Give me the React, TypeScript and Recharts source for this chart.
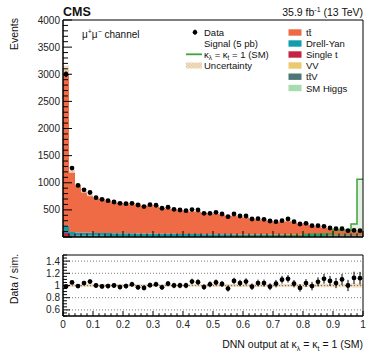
import React from 'react';
import { ComposedChart, Area, Scatter, ErrorBar, XAxis, YAxis, ReferenceLine, ReferenceArea } from 'recharts';

const FONT = '"Liberation Sans", Arial, sans-serif';
const BIN_W = 0.02;

// 50 bins of 0.02
const data = [3000, 1270, 950, 870, 820, 725, 695, 670, 645, 620, 615, 620, 590, 560, 595, 585, 530, 548, 510, 498,
  485, 505, 498, 436, 436, 455, 424, 375, 424, 387, 387, 332, 338, 326, 295, 283, 301, 332, 283, 240,
  252, 209, 209, 197, 166, 154, 154, 117, 123, 117];
const ratio = [0.985, 1.05, 0.99, 1.04, 1.065, 1.0, 0.985, 0.99, 1.0, 0.975, 0.99, 1.02, 0.97, 0.96, 1.005, 1.02, 0.97, 1.03, 1.0, 1.0,
  1.0, 1.065, 1.055, 0.975, 1.02, 1.05, 1.025, 0.95, 1.075, 1.04, 1.065, 0.98, 1.04, 1.04, 0.98, 1.03, 1.095, 1.11, 1.03, 0.96,
  1.04, 0.99, 1.06, 1.11, 1.075, 1.04, 1.1, 1.0, 1.125, 1.12];
const tt = [2874, 1118, 876, 757, 693, 650, 633, 605, 575, 567, 553, 541, 543, 519, 529, 513, 486, 472, 452, 442,
  429, 419, 418, 394, 375, 382, 363, 345, 346, 324, 316, 292, 279, 269, 257, 237, 242, 253, 234, 210,
  204, 174, 160, 141, 120, 114, 107, 85, 78, 75];
const dy = [130, 62, 58, 56, 55, 54, 52, 52, 50, 50, 49, 48, 47, 46, 46, 45, 44, 44, 43, 42,
  42, 41, 40, 40, 39, 38, 38, 37, 36, 36, 35, 35, 34, 33, 33, 32, 32, 31, 30, 30,
  29, 28, 28, 27, 26, 26, 25, 24, 24, 22];
const singleT = [60, 22, 18, 16, 15, 14, 14, 13, 13, 12, 12, 12, 11, 11, 11, 10, 10, 10, 10, 9,
  9, 9, 9, 8, 8, 8, 8, 8, 7, 7, 7, 7, 7, 6, 6, 6, 6, 6, 6, 5,
  5, 5, 5, 5, 4, 4, 4, 4, 3, 3];
const vv = [8, 4, 4, 4, 3, 3, 3, 3, 3, 3, 3, 3, 3, 3, 3, 3, 3, 3, 2, 2,
  2, 2, 2, 2, 2, 2, 2, 2, 2, 2, 2, 2, 2, 2, 2, 2, 2, 2, 2, 2,
  1, 1, 1, 1, 1, 1, 1, 1, 1, 1];
const ttv = [6, 3, 3, 3, 3, 3, 3, 3, 3, 3, 3, 3, 3, 3, 2, 2, 2, 2, 2, 2,
  2, 2, 2, 2, 2, 2, 2, 2, 2, 2, 2, 2, 2, 2, 2, 2, 2, 2, 2, 2,
  2, 2, 2, 2, 2, 2, 2, 2, 2, 2];
const higgs = [2, 1, 1, 1, 1, 1, 1, 1, 1, 1, 1, 1, 1, 1, 1, 1, 1, 1, 1, 1,
  1, 1, 1, 1, 1, 1, 1, 1, 1, 1, 1, 1, 1, 1, 1, 1, 1, 1, 1, 1,
  1, 1, 1, 1, 1, 1, 1, 1, 1, 1];
const signal = [1, 1, 1, 1, 1, 1, 1, 1, 1, 1, 2, 2, 2, 2, 2, 2, 3, 3, 3, 3,
  3, 4, 4, 4, 5, 5, 6, 6, 7, 8, 8, 9, 10, 11, 12, 14, 16, 18, 18, 20,
  45, 50, 52, 55, 58, 125, 130, 130, 240, 1063];
const relUnc = [0.026, 0.025, 0.024, 0.024, 0.024, 0.023, 0.023, 0.023, 0.023, 0.023, 0.022, 0.022, 0.022, 0.022, 0.022, 0.022, 0.022, 0.022, 0.022, 0.022,
  0.022, 0.022, 0.022, 0.022, 0.022, 0.023, 0.023, 0.023, 0.023, 0.023, 0.023, 0.024, 0.024, 0.024, 0.024, 0.025, 0.025, 0.025, 0.025, 0.026,
  0.026, 0.027, 0.027, 0.028, 0.028, 0.029, 0.03, 0.03, 0.031, 0.032];

const xLabels = ['0', '0.1', '0.2', '0.3', '0.4', '0.5', '0.6', '0.7', '0.8', '0.9', '1'];
const yLabels = [500, 1000, 1500, 2000, 2500, 3000, 3500, 4000];
const rLabels = [0.6, 0.8, 1, 1.2, 1.4];
const rGrid = [0.6, 0.8, 1, 1.2, 1.4];

const COLORS = {
  tt: '#EE6B45', dy: '#119DAB', singleT: '#C42341', vv: '#EDC96E', ttv: '#4F7677', higgs: '#A6DCB0',
  sig: '#3FA33B', unc: '#E6C79C',
};

const NB = data.length;
const xTicks = Array.from({ length: NB + 1 }, (_, k) => +(k * BIN_W).toFixed(2));
const yTicks = Array.from({ length: 41 }, (_, k) => k * 100);
const rTicks = Array.from({ length: 21 }, (_, k) => +(0.5 + k * 0.05).toFixed(2));

const totalOf = (i: number) => tt[i] + dy[i] + singleT[i] + vv[i] + ttv[i] + higgs[i];

// step rows at bin edges (last edge repeats the last bin)
const stackRows = xTicks.map((x, k) => {
  const i = Math.min(k, NB - 1);
  const tot = totalOf(i);
  return {
    x, tt: tt[i], dy: dy[i], singleT: singleT[i], vv: vv[i], ttv: ttv[i], higgs: higgs[i],
    sig: signal[i],
    unc: [tot * (1 - relUnc[i]), tot * (1 + relUnc[i])],
    runc: [1 - relUnc[i], 1 + relUnc[i]],
  };
});

const pointRows = data.map((v, i) => ({
  x: +((i + 0.5) * BIN_W).toFixed(3),
  y: v,
  err: Math.sqrt(v),
  r: ratio[i],
  rerr: ratio[i] / Math.sqrt(v),
}));

const isMajorX = (v: number) => Math.round(v * 100) % 10 === 0;

function MainXTick({ x, y, payload }: any) {
  const len = isMajorX(payload.value) ? 6 : 3.5;
  return <line x1={x} x2={x} y1={y} y2={y - len} stroke="#000" strokeWidth={1} />;
}

function MainYTick({ x, y, payload }: any) {
  const v = payload.value;
  const major = v % 500 === 0;
  return (
    <g>
      <line x1={x} x2={x + (major ? 9 : 5)} y1={y} y2={y} stroke="#000" />
      {major && v > 0 && yLabels.includes(v) && (
        <text x={x - 3} y={y} dy={3.5} textAnchor="end" fontSize={10} fontFamily={FONT} fill="#222">{v}</text>
      )}
    </g>
  );
}

function RatioXTick({ x, y, payload }: any) {
  const major = isMajorX(payload.value);
  const len = major ? 5 : 2.8;
  const lab = xLabels[Math.round(payload.value * 10)];
  return (
    <g>
      <line x1={x} x2={x} y1={y} y2={y - len} stroke="#000" />
      {major && (
        <text x={x} y={y + 12} textAnchor="middle" fontSize={10} fontFamily={FONT} fill="#222">{lab}</text>
      )}
    </g>
  );
}

function RatioTopTick({ x, y, payload }: any) {
  const len = isMajorX(payload.value) ? 5 : 2.8;
  return <line x1={x} x2={x} y1={y} y2={y + len} stroke="#000" />;
}

function RatioYTick({ x, y, payload }: any) {
  const v = payload.value;
  const lab = rLabels.find((l) => Math.abs(l - v) < 1e-6);
  return (
    <g>
      <line x1={x} x2={x + (lab !== undefined ? 7 : 4)} y1={y} y2={y} stroke="#000" />
      {lab !== undefined && (
        <text x={x - 3} y={y} dy={3.5} textAnchor="end" fontSize={10} fontFamily={FONT} fill="#222">{lab}</text>
      )}
    </g>
  );
}

const dot = (p: any) => <circle cx={p.cx} cy={p.cy} r={2.4} fill="#000" />;

function Hatch({ id }: { id: string }) {
  return (
    <defs>
      <pattern id={id} width="3" height="3" patternUnits="userSpaceOnUse">
        <rect width="3" height="3" fill="#F5E6D0" />
        <rect width="1.5" height="1.5" fill={COLORS.unc} />
        <rect x="1.5" y="1.5" width="1.5" height="1.5" fill={COLORS.unc} />
      </pattern>
    </defs>
  );
}

function Overlay() {
  const t = { fontFamily: FONT, fill: '#111' } as const;
  const leftRows = 204;
  const rx = 306;
  const boxes = [
    { c: COLORS.tt, y: 32.5 },
    { c: COLORS.dy, y: 43.5 },
    { c: COLORS.singleT, y: 54.5 },
    { c: COLORS.vv, y: 65.5 },
    { c: COLORS.ttv, y: 76.7 },
    { c: COLORS.higgs, y: 88 },
  ];
  return (
    <svg width={374} height={363} style={{ position: 'absolute', left: 0, top: 0, pointerEvents: 'none' }}>
      <Hatch id="hatchLeg" />
      <text x={63} y={15.5} fontSize={12.5} fontWeight="bold" {...t}>CMS</text>
      <text x={363} y={15.5} fontSize={10.5} textAnchor="end" {...t}>
        35.9 fb<tspan fontSize={7} dy={-4}>-1</tspan><tspan dy={4}> (13 TeV)</tspan>
      </text>
      <text transform="translate(17.5,18) rotate(-90)" fontSize={10.5} textAnchor="end" {...t}>Events</text>
      <text transform="translate(17.5,279) rotate(-90)" fontSize={10.5} textAnchor="middle" {...t}>Data / sim.</text>
      <text x={363} y={348} fontSize={10.5} textAnchor="end" {...t}>
        DNN output at κ<tspan fontSize={7} dy={2.5}>λ</tspan><tspan dy={-2.5}> = κ</tspan><tspan fontSize={7} dy={2.5}>t</tspan><tspan dy={-2.5}> = 1 (SM)</tspan>
      </text>
      <text x={82} y={37.5} fontSize={10} {...t}>
        μ<tspan fontSize={7} dy={-3.5}>+</tspan><tspan dy={3.5}>μ</tspan><tspan fontSize={7} dy={-3.5}>−</tspan><tspan dy={3.5}> channel</tspan>
      </text>

      <line x1={195} x2={195} y1={29.5} y2={35} stroke="#000" />
      <circle cx={195} cy={32.3} r={2.3} fill="#000" />
      <text x={leftRows} y={35.8} fontSize={9.5} {...t}>Data</text>
      <text x={leftRows} y={46.8} fontSize={9.5} {...t}>Signal (5 pb)</text>
      <line x1={186} x2={202} y1={54.3} y2={54.3} stroke={COLORS.sig} strokeWidth={1.8} />
      <text x={leftRows} y={57.8} fontSize={9.5} {...t}>
        κ<tspan fontSize={6.5} dy={2.5}>λ</tspan><tspan dy={-2.5}> = κ</tspan><tspan fontSize={6.5} dy={2.5}>t</tspan><tspan dy={-2.5}> = 1 (SM)</tspan>
      </text>
      <rect x={186} y={62.5} width={16} height={6} fill="url(#hatchLeg)" />
      <text x={leftRows} y={69.3} fontSize={9.5} {...t}>Uncertainty</text>

      {boxes.map((b) => (
        <rect key={b.y} x={288.5} y={b.y - 3.2} width={13} height={6.4} fill={b.c} />
      ))}
      <text x={rx} y={36} fontSize={9.5} {...t}>tt̄</text>
      <text x={rx} y={47} fontSize={9.5} {...t}>Drell-Yan</text>
      <text x={rx} y={58} fontSize={9.5} {...t}>Single t</text>
      <text x={rx} y={69} fontSize={9.5} {...t}>VV</text>
      <text x={rx} y={80.2} fontSize={9.5} {...t}>tt̄V</text>
      <text x={rx} y={91.5} fontSize={9.5} {...t}>SM Higgs</text>
    </svg>
  );
}

export default function App() {
  return (
    <div style={{ position: 'absolute', left: 0, top: 0, width: 374, height: 363, background: '#fff' }}>
      <div style={{ position: 'absolute', left: 0, top: 0 }}>
        <ComposedChart width={374} height={245} data={stackRows} margin={{ top: 20, right: 11, bottom: 0, left: 0 }}>
          <Hatch id="hatchMain" />
          <XAxis dataKey="x" type="number" domain={[0, 1]} ticks={xTicks} interval={0} height={8}
            tickSize={0} tickMargin={0} tickLine={false} axisLine={{ stroke: '#000' }} tick={<MainXTick />} allowDataOverflow />
          <YAxis type="number" domain={[0, 4000]} ticks={yTicks} interval={0} width={63}
            tickSize={0} tickMargin={0} tickLine={false} axisLine={{ stroke: '#000' }} tick={<MainYTick />} allowDataOverflow />
          <Area dataKey="higgs" stackId="mc" type="stepAfter" fill={COLORS.higgs} fillOpacity={1} stroke="none" isAnimationActive={false} />
          <Area dataKey="ttv" stackId="mc" type="stepAfter" fill={COLORS.ttv} fillOpacity={1} stroke="none" isAnimationActive={false} />
          <Area dataKey="vv" stackId="mc" type="stepAfter" fill={COLORS.vv} fillOpacity={1} stroke="none" isAnimationActive={false} />
          <Area dataKey="singleT" stackId="mc" type="stepAfter" fill={COLORS.singleT} fillOpacity={1} stroke="none" isAnimationActive={false} />
          <Area dataKey="dy" stackId="mc" type="stepAfter" fill={COLORS.dy} fillOpacity={1} stroke="none" isAnimationActive={false} />
          <Area dataKey="tt" stackId="mc" type="stepAfter" fill={COLORS.tt} fillOpacity={1} stroke="none" isAnimationActive={false} />
          <Area dataKey="unc" type="stepAfter" fill="url(#hatchMain)" fillOpacity={0.85} stroke="none" isAnimationActive={false} />
          <Area dataKey="sig" type="stepAfter" fill={COLORS.sig} fillOpacity={0.15} stroke={COLORS.sig} strokeWidth={1.5} isAnimationActive={false} />
          <Scatter data={pointRows} dataKey="y" shape={dot} isAnimationActive={false}>
            <ErrorBar dataKey="err" direction="y" width={0} stroke="#000" strokeWidth={1} />
          </Scatter>
          <ReferenceArea x1={0} x2={1} y1={0} y2={4000} fill="none" stroke="#000" strokeWidth={1} ifOverflow="visible" />
        </ComposedChart>
      </div>
      <div style={{ position: 'absolute', left: 0, top: 235 }}>
        <ComposedChart width={374} height={110} data={stackRows} margin={{ top: 20, right: 11, bottom: 0, left: 0 }}>
          <Hatch id="hatchRatio" />
          <XAxis dataKey="x" type="number" domain={[0, 1]} ticks={xTicks} interval={0} height={29}
            tickSize={0} tickMargin={0} tickLine={false} axisLine={{ stroke: '#000' }} tick={<RatioXTick />} allowDataOverflow />
          <XAxis xAxisId="top" orientation="top" dataKey="x" type="number" domain={[0, 1]} ticks={xTicks} interval={0} height={0}
            tickSize={0} tickMargin={0} tickLine={false} axisLine={{ stroke: '#000' }} tick={<RatioTopTick />} allowDataOverflow />
          <YAxis type="number" domain={[0.5, 1.5]} ticks={rTicks} interval={0} width={63}
            tickSize={0} tickMargin={0} tickLine={false} axisLine={{ stroke: '#000' }} tick={<RatioYTick />} allowDataOverflow />
          {rGrid.map((g) => (
            <ReferenceLine key={g} y={g} stroke="#777" strokeDasharray="1 2" strokeWidth={1} />
          ))}
          <Area dataKey="runc" type="stepAfter" fill="url(#hatchRatio)" fillOpacity={0.9} stroke="none" isAnimationActive={false} />
          <Scatter data={pointRows} dataKey="r" shape={dot} isAnimationActive={false}>
            <ErrorBar dataKey="rerr" direction="y" width={0} stroke="#000" strokeWidth={1} />
          </Scatter>
          <ReferenceArea x1={0} x2={1} y1={0.5} y2={1.5} fill="none" stroke="#000" strokeWidth={1} ifOverflow="visible" />
        </ComposedChart>
      </div>
      <Overlay />
    </div>
  );
}
